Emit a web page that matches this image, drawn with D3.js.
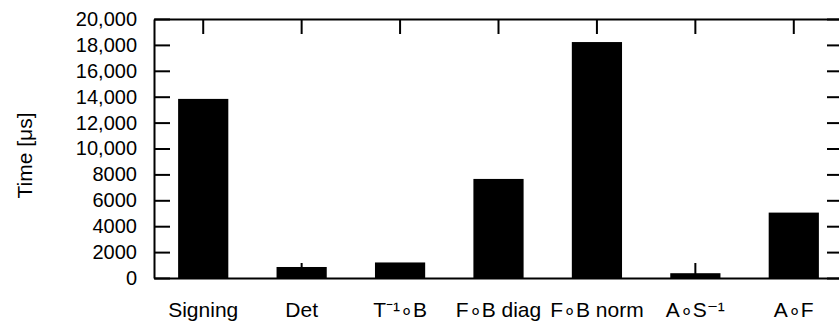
<!DOCTYPE html>
<html>
<head>
<meta charset="utf-8">
<script src="https://cdn.jsdelivr.net/npm/d3@7"></script>
<style>
  body { margin: 0; background: #fff; }
  text { font-family: "Liberation Sans", Arial, sans-serif; fill: #000; }
</style>
</head>
<body>
<div id="chart"></div>
<script>
const categories = ["Signing", "Det", "T\u207B\u00B9\u2218B", "F\u2218B diag", "F\u2218B norm", "A\u2218S\u207B\u00B9", "A\u2218F"];
const times = [13830, 850, 1200, 7650, 18220, 370, 5050];
const yTicks = [0, 2000, 4000, 6000, 8000, 10000, 12000, 14000, 16000, 18000, 20000];

const W = 839, H = 327;
const margin = { top: 19, right: -4, bottom: 49, left: 154 };
const width = W - margin.left - margin.right;
const height = H - margin.top - margin.bottom;
const TICK = 15;

const svg = d3.select("#chart").append("svg")
  .attr("width", W).attr("height", H);

const g = svg.append("g")
  .attr("transform", "translate(" + margin.left + "," + margin.top + ")");

const x = d3.scaleBand()
  .domain(categories)
  .range([0, width])
  .paddingInner(0.49)
  .paddingOuter(0.245);

const y = d3.scaleLinear().domain([0, 20000]).range([height, 0]);

// bars
g.selectAll("rect.bar")
  .data(categories)
  .enter()
  .append("rect")
  .attr("class", "bar")
  .attr("x", d => x(d))
  .attr("width", x.bandwidth())
  .attr("y", (d, i) => y(times[i]))
  .attr("height", (d, i) => height - y(times[i]))
  .attr("fill", "#000");

const fmt = v => v >= 10000 ? d3.format(",")(v) : String(v);

// left axis, ticks inward
const yAxis = d3.axisLeft(y).tickValues(yTicks).tickFormat(fmt).tickSizeInner(-16).tickSizeOuter(0).tickPadding(17);
const yg = g.append("g").call(yAxis);

// right mirror ticks
const yAxisR = d3.axisRight(y).tickValues(yTicks).tickFormat("").tickSizeInner(-16).tickSizeOuter(0);
const yr = g.append("g").attr("transform", "translate(" + width + ",0)").call(yAxisR);

// bottom axis, ticks inward
const xAxis = d3.axisBottom(x).tickSizeInner(-TICK).tickSizeOuter(0);
const xg = g.append("g").attr("transform", "translate(0," + height + ")").call(xAxis);

// top mirror ticks
const xAxisT = d3.axisTop(x).tickFormat("").tickSizeInner(-TICK).tickSizeOuter(0);
const xt = g.append("g").call(xAxisT);

[yg, yr, xg, xt].forEach(a => {
  a.selectAll("path.domain").attr("stroke", "#000").attr("stroke-width", 2);
  a.selectAll(".tick line").attr("stroke", "#000").attr("stroke-width", 2);
  a.selectAll("text").style("font-family", "'Liberation Sans', Arial, sans-serif").style("font-size", "20px").attr("fill", "#000");
});
xg.selectAll(".tick text").style("font-size", "21px").attr("dy", "0.71em").attr("y", 24);

// y label
svg.append("text")
  .attr("transform", "translate(32," + (margin.top + height / 2 + 7) + ") rotate(-90)")
  .attr("text-anchor", "middle")
  .style("font-size", "21px")
  .text("Time [\u03BCs]");
</script>
</body>
</html>
